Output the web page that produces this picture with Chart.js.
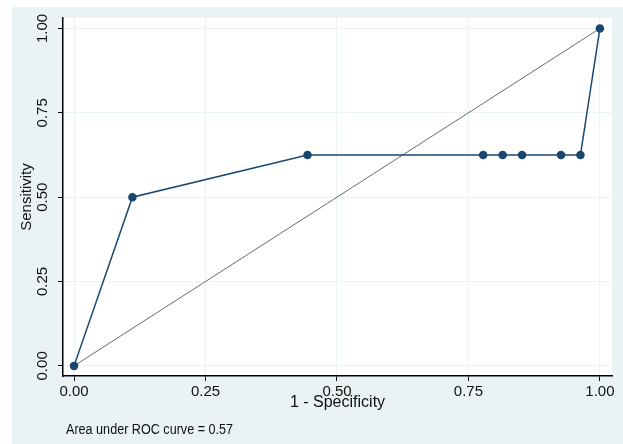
<!DOCTYPE html>
<html>
<head>
<meta charset="utf-8">
<script src="https://cdn.jsdelivr.net/npm/chart.js@4.4.1/dist/chart.umd.min.js"></script>
<style>
  html, body { margin: 0; padding: 0; background: #ffffff; }
  #wrap { width: 623px; height: 444px; }
</style>
</head>
<body>
<div id="wrap"><canvas id="chart" width="623" height="444"></canvas></div>
<script>
const ctx = document.getElementById('chart');

// 1 - specificity / sensitivity pairs
const fpr = [0, 0.111, 0.444, 0.778, 0.815, 0.852, 0.926, 0.963, 1];
const tpr = [0, 0.5, 0.625, 0.625, 0.625, 0.625, 0.625, 0.625, 1];
const refLine = [0, 1];
const tickValues = [0, 0.25, 0.5, 0.75, 1];
const aucText = 'Area under ROC curve = 0.57';

const navy = '#1a476f';
const font = 'Liberation Sans, Arial, sans-serif';

const rocPoints = fpr.map((x, i) => ({ x: x, y: tpr[i] }));
const refPoints = refLine.map(v => ({ x: v, y: v }));

// backgrounds, rotated y tick labels and the AUC note
const stataLook = {
    id: 'stataLook',
    beforeDraw(chart) {
        const c = chart.ctx;
        const a = chart.chartArea;
        c.save();
        c.fillStyle = '#ffffff';
        c.fillRect(0, 0, chart.width, chart.height);
        c.fillStyle = '#eaf2f3';
        c.fillRect(12, 7, chart.width - 12, chart.height - 7);
        c.fillStyle = '#ffffff';
        c.fillRect(a.left, a.top, a.right - a.left, a.bottom - a.top);
        c.restore();
    },
    afterDraw(chart) {
        const c = chart.ctx;
        const ys = chart.scales.y;
        c.save();
        c.fillStyle = '#111111';
        c.font = '15px ' + font;
        c.textAlign = 'center';
        c.textBaseline = 'middle';
        tickValues.forEach(v => {
            const py = ys.getPixelForValue(v);
            c.save();
            c.translate(43, py);
            c.rotate(-Math.PI / 2);
            c.fillText(v.toFixed(2), 0, 0);
            c.restore();
        });
        c.font = '14px ' + font;
        c.textAlign = 'left';
        c.textBaseline = 'alphabetic';
        c.translate(66, 434);
        c.scale(0.9, 1);
        c.fillText(aucText, 0, 0);
        c.restore();
    }
};

new Chart(ctx, {
    type: 'scatter',
    data: {
        datasets: [{
            label: 'ROC',
            data: rocPoints,
            showLine: true,
            borderColor: navy,
            backgroundColor: navy,
            borderWidth: 1.5,
            pointRadius: 3.5,
            pointHoverRadius: 3.5,
            order: 1
        }, {
            label: 'Reference',
            data: refPoints,
            showLine: true,
            borderColor: '#5b7367',
            borderWidth: 1,
            pointRadius: 0,
            order: 2
        }]
    },
    options: {
        responsive: false,
        animation: false,
        layout: { padding: { left: 0, top: 18, right: 11, bottom: 32 } },
        plugins: {
            legend: { display: false },
            tooltip: { enabled: false }
        },
        scales: {
            x: {
                type: 'linear',
                min: -0.021,
                max: 1.023,
                afterBuildTicks: scale => { scale.ticks = tickValues.map(v => ({ value: v })); },
                afterFit: scale => { scale.height = 36; },
                ticks: {
                    color: '#111111',
                    font: { family: font, size: 15 },
                    padding: 2,
                    maxRotation: 0,
                    callback: v => v.toFixed(2)
                },
                grid: { color: '#eaf2f3', tickColor: '#000000', tickLength: 5 },
                border: { display: true, color: '#000000', width: 1.5 },
                title: {
                    display: true,
                    text: '1 - Specificity',
                    color: '#111111',
                    font: { family: font, size: 16 },
                    padding: { top: 0, bottom: 0 }
                }
            },
            y: {
                type: 'linear',
                min: -0.03,
                max: 1.031,
                afterBuildTicks: scale => { scale.ticks = tickValues.map(v => ({ value: v })); },
                afterFit: scale => { scale.width = 63; },
                ticks: { display: false },
                grid: { color: '#eaf2f3', tickColor: '#000000', tickLength: 5 },
                border: { display: true, color: '#000000', width: 1.5 },
                title: {
                    display: true,
                    text: 'Sensitivity',
                    color: '#111111',
                    font: { family: font, size: 15 },
                    padding: { top: 18, bottom: 0 }
                }
            }
        }
    },
    plugins: [stataLook]
});
</script>
</body>
</html>
